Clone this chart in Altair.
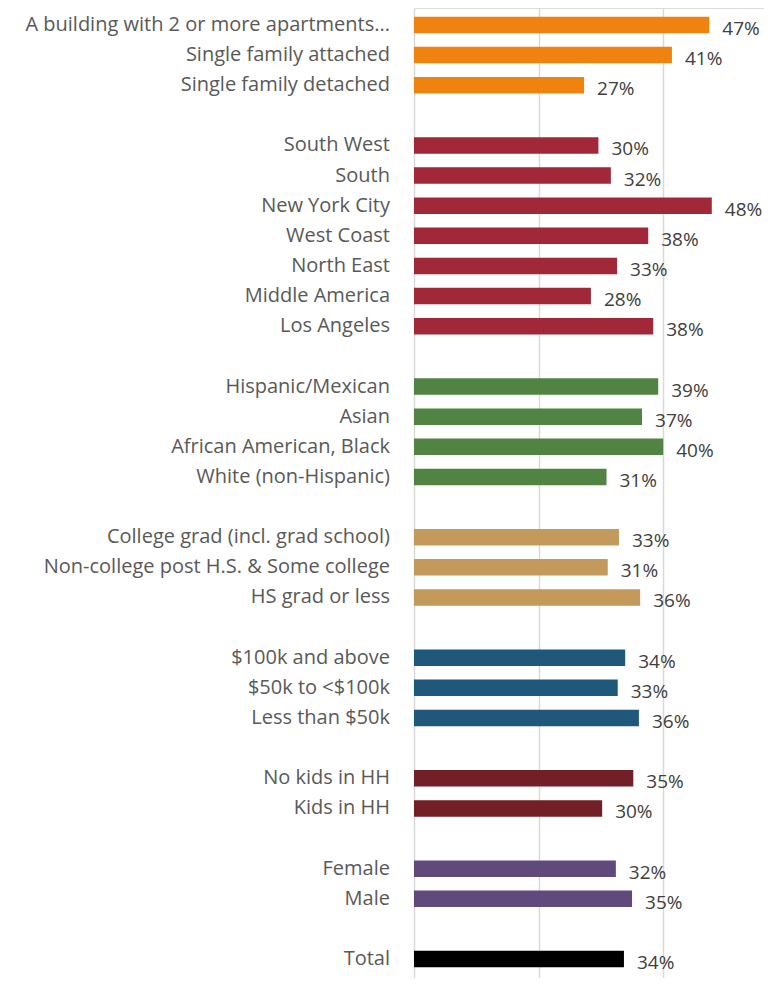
import altair as alt
import pandas as pd

categories = [
    "A building with 2 or more apartments...", "Single family attached", "Single family detached",
    "South West", "South", "New York City", "West Coast", "North East", "Middle America", "Los Angeles",
    "Hispanic/Mexican", "Asian", "African American, Black", "White (non-Hispanic)",
    "College grad (incl. grad school)", "Non-college post H.S. & Some college", "HS grad or less",
    "$100k and above", "$50k to <$100k", "Less than $50k",
    "No kids in HH", "Kids in HH",
    "Female", "Male",
    "Total",
]
values = [
    47.4, 41.4, 27.3,
    29.6, 31.6, 47.8, 37.6, 32.6, 28.4, 38.4,
    39.2, 36.6, 40.0, 30.9,
    32.9, 31.1, 36.3,
    33.9, 32.7, 36.1,
    35.2, 30.2,
    32.4, 35.0,
    33.7,
]
groups = (["Housing"] * 3 + ["Region"] * 7 + ["Race"] * 4 + ["Education"] * 3
          + ["Income"] * 3 + ["Kids"] * 2 + ["Gender"] * 2 + ["Total"])
group_names = ["Housing", "Region", "Race", "Education", "Income", "Kids", "Gender", "Total"]
group_colors = ["#F0820F", "#A02838", "#518442", "#C49A5C", "#1F587A", "#721F28", "#604A7B", "#000000"]

# slot index: one empty slot between groups
slots = []
s = -1
prev = None
for g in groups:
    s += 1
    if prev is not None and g != prev:
        s += 1
    slots.append(s)
    prev = g

df = pd.DataFrame({"cat": categories, "val": values, "grp": groups, "slot": slots})
df["label"] = [f"{round(v):d}%" for v in values]

W = 350
H = 970
step = 30.45
y_top = -12 / step
y_bot = y_top + H / step

xs = alt.Scale(domain=[0, W / 6.23], nice=False, zero=True)
ys = alt.Scale(domain=[y_top, y_bot], nice=False, zero=False, reverse=True)

base = alt.Chart(df)

bars = base.mark_bar(orient="horizontal", size=16.5).encode(
    x=alt.X("val:Q", scale=xs,
            axis=alt.Axis(values=[0, 20, 40, 60], grid=True, gridColor="#D9D9D9", gridWidth=1.5,
                          labels=False, ticks=False, domain=False, title=None)),
    x2=alt.datum(0),
    y=alt.Y("slot:Q", scale=ys, axis=None),
    color=alt.Color("grp:N", scale=alt.Scale(domain=group_names, range=group_colors), legend=None),
)

vlabels = base.mark_text(align="left", baseline="middle", dx=13, dy=4,
                         font="Open Sans", fontSize=19, color="#404040").encode(
    x=alt.X("val:Q", scale=xs),
    y=alt.Y("slot:Q", scale=ys),
    text="label:N",
)

clabels = base.mark_text(align="right", baseline="middle", dx=-24, dy=0,
                         font="Open Sans", fontSize=20, color="#595959").encode(
    x=alt.value(0),
    y=alt.Y("slot:Q", scale=ys),
    text="cat:N",
)

chart = alt.layer(bars, vlabels, clabels).properties(
    width=W, height=H,
    autosize="none",
    padding={"left": 406, "top": 0, "right": 0, "bottom": 0},
).configure_view(stroke=None).configure(background="white")

chart.save("out.html", embed_options={"renderer": "svg", "actions": False})
